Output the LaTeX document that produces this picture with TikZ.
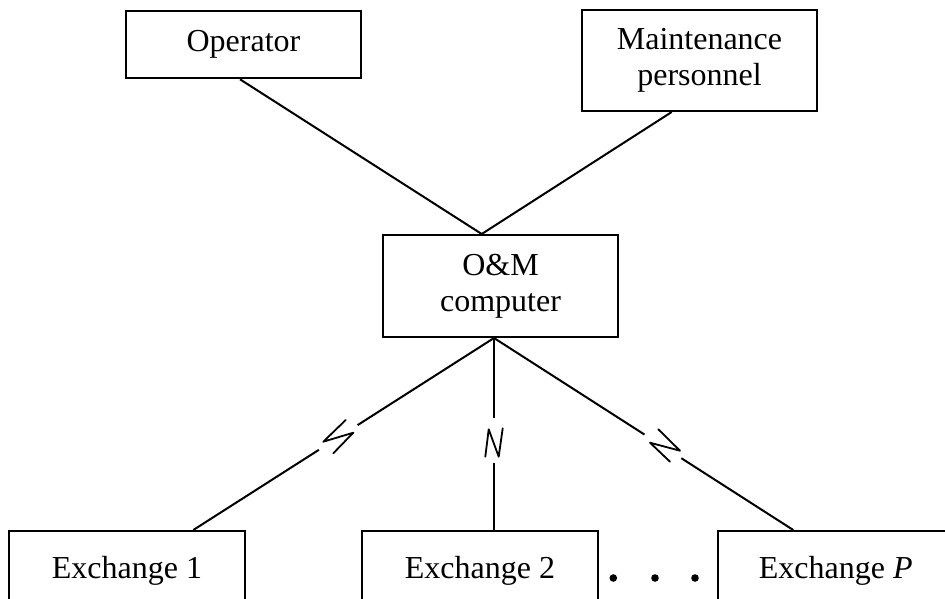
\documentclass[tikz,border=0pt]{standalone}
\usepackage{fontspec}
\setmainfont{Liberation Serif}
\usetikzlibrary{calc}
\begin{document}
\begin{tikzpicture}[x=1pt,y=-1pt,
  box/.style={draw, line width=2pt, rectangle, minimum width=235.5pt, inner sep=0pt, align=center, font=\fontsize{32}{36}\selectfont},
  conn/.style={line width=2pt},
  brk/.style={line width=1.8pt, line join=round, line cap=round}]
\useasboundingbox (0,0) rectangle (945,598);
% boxes
\node[box, minimum height=67.6pt] (op) at (243.5,44.5) {Operator};
\node[box, minimum height=101pt] (mp) at (699.5,60.5) {Maintenance\\personnel};
\node[box, minimum height=102pt] (om) at (500.5,286) {O\&M\\computer};
\node[box, minimum height=80pt] (e1) at (127,571) {Exchange 1};
\node[box, minimum height=80pt] (e2) at (480,571) {Exchange 2};
\node[box, minimum height=80pt] (eP) at (835.75,571) {Exchange \textit{P}};
% anchor points
\coordinate (omT) at ([xshift=-18.8pt]om.north);
\coordinate (omB) at ([xshift=-6.5pt]om.south);
\coordinate (opB) at ([xshift=-3.5pt]op.south);
\coordinate (mpB) at ([xshift=-27.8pt]mp.south);
\coordinate (e1T) at ([xshift=66.3pt]e1.north);
\coordinate (e2T) at ([xshift=14pt]e2.north);
\coordinate (ePT) at ([xshift=-42.5pt]eP.north);
% upper connectors
\draw[conn] (opB) -- (omT);
\draw[conn] (mpB) -- (omT);
% lower connectors with break symbols
\draw[conn] (omB) -- ($(omB)!0.4536!(e1T)$);
\draw[conn] ($(omB)!0.5825!(e1T)$) -- (e1T);
\draw[brk] (345.7,420) -- (323.3,441.7) -- (353.3,432.7) -- (333.3,453.3);
\draw[conn] (omB) -- ($(omB)!0.419!(e2T)$);
\draw[conn] ($(omB)!0.651!(e2T)$) -- (e2T);
\draw[brk] (485.3,456.7) -- (488.7,429.3) -- (498.7,456.7) -- (502.7,428.3);
\draw[conn] (omB) -- ($(omB)!0.503!(ePT)$);
\draw[conn] ($(omB)!0.626!(ePT)$) -- (ePT);
\draw[brk] (658.3,429.3) -- (680,450.7) -- (650,442.7) -- (670,461.7);
% dots
\fill (613.3,578) circle (3.8pt);
\fill (655,578) circle (3.8pt);
\fill (695,578) circle (3.8pt);
\end{tikzpicture}
\end{document}
